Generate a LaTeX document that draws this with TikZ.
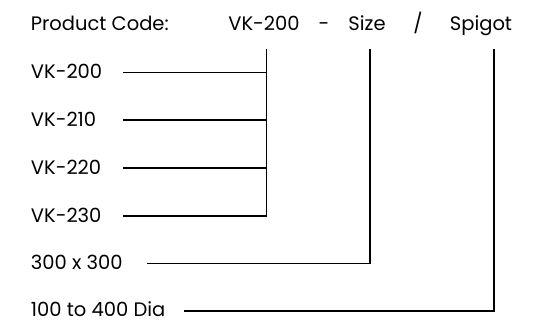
\documentclass[tikz,border=0pt]{standalone}
\usepackage{fontspec}
\setmainfont{Poppins}
\begin{document}
\begin{tikzpicture}[x=1pt,y=-1pt,
  lbl/.style={anchor=base west,inner sep=0pt,font=\fontsize{19.5}{22}\selectfont},
  hdr/.style={anchor=base,inner sep=0pt,font=\fontsize{19.5}{22}\selectfont},
  wire/.style={line width=1.2pt}]
\useasboundingbox (0,0) rectangle (547,320);
% header
\node[lbl] (code) at (30.7,31) {Product Code:};
\node[hdr] (hvk) at (264,31) {VK-200};
\node[hdr] (hdash) at (324,31) {-};
\node[hdr] (hsize) at (367,31) {Size};
\node[hdr] (hslash) at (418,31) {/};
\node[hdr] (hspig) at (481,31) {Spigot};
% options
\node[lbl] (v200) at (30.7,78.5) {VK-200};
\node[lbl] (v210) at (30.7,126.3) {VK-210};
\node[lbl] (v220) at (30.7,174.3) {VK-220};
\node[lbl] (v230) at (30.7,222.3) {VK-230};
\node[lbl] (s300) at (30.7,269.8) {300 x 300};
\node[lbl] (dia) at (30.7,316.5) {100 to 400 Dia};
% wire ends
\coordinate (topvk) at (266.7,49.5);
\coordinate (topsz) at (370,49.5);
\coordinate (topsp) at (494,49.5);
\coordinate (a200) at (123.3,72.3);
\coordinate (a210) at (123.3,120);
\coordinate (a220) at (123.3,168);
\coordinate (a230) at (123.3,216);
\coordinate (a300) at (146.7,263.5);
\coordinate (adia) at (184,311);
% wires
\draw[wire] (topvk) |- (a230);
\draw[wire] (a200) -- (a200 -| topvk);
\draw[wire] (a210) -- (a210 -| topvk);
\draw[wire] (a220) -- (a220 -| topvk);
\draw[wire] (topsz) |- (a300);
\draw[wire] (topsp) |- (adia);
\end{tikzpicture}
\end{document}
